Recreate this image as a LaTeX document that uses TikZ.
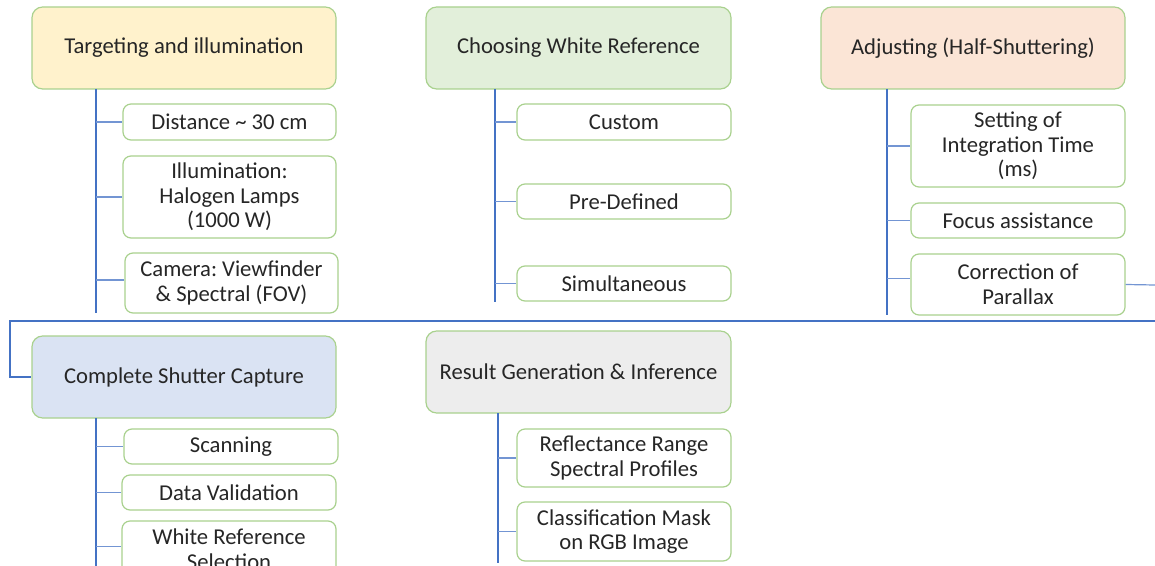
\documentclass[tikz,border=0pt]{standalone}
\usepackage{fontspec}
\setmainfont{Carlito}
\frenchspacing
\begin{document}
\begin{tikzpicture}[x=0.75pt,y=-0.75pt,
  base/.style={draw=bordergreen, line width=0.9pt, align=center, text=textdark,
    font=\fontsize{17}{18.4}\selectfont, inner sep=0pt},
  hdr/.style={base, rounded corners=8pt},
  child/.style={base, fill=white, rounded corners=6pt},
  sz/.style 2 args={minimum width=#1*0.75pt, minimum height=#2*0.75pt},
  trunk/.style={draw=lineblue, line width=0.9pt},
  branch/.style={draw=lineblue!75, line width=0.9pt}]
\definecolor{bordergreen}{HTML}{A9D18E}
\definecolor{textdark}{HTML}{262626}
\definecolor{lineblue}{HTML}{4472C4}
\definecolor{hyel}{HTML}{FFF2CC}
\definecolor{hgrn}{HTML}{E2EFDA}
\definecolor{hpch}{HTML}{FBE5D6}
\definecolor{hblu}{HTML}{DAE3F3}
\definecolor{hgry}{HTML}{EDEDED}
\useasboundingbox (0,0) rectangle (1155,566);
\clip (0,0) rectangle (1155,566);

% headers
\node[hdr, fill=hyel, sz={304}{82}] (h1) at (184,48) {Targeting and illumination};
\node[hdr, fill=hgrn, sz={305}{82}] (h2) at (578.5,48) {Choosing White Reference};
\node[hdr, fill=hpch, sz={304}{82}] (h3) at (973,48) {Adjusting (Half-Shuttering)};
\node[hdr, fill=hblu, sz={304}{82}] (h4) at (184,377) {Complete Shutter Capture};
\node[hdr, fill=hgry, sz={305}{82}] (h5) at (578.5,372) {Result Generation \& Inference};

% children column 1
\node[child, sz={213}{36}] (c11) at (229.5,122) {Distance \char`~\ 30 cm};
\node[child, sz={213}{82}] (c12) at (229.5,197) {Illumination:\\Halogen Lamps\\(1000 W)};
\node[child, sz={213}{60}] (c13) at (231.5,283) {Camera: Viewfinder\\\& Spectral (FOV)};
% column 2
\node[child, sz={214}{36}] (c21) at (624,122) {Custom};
\node[child, sz={214}{35}] (c22) at (624,201.5) {Pre-Defined};
\node[child, sz={214}{35}] (c23) at (624,283.5) {Simultaneous};
% column 3
\node[child, sz={214}{82}] (c31) at (1018,146) {Setting of\\Integration Time\\(ms)};
\node[child, sz={214}{35}] (c32) at (1018,220.5) {Focus assistance};
\node[child, sz={214}{61}] (c33) at (1018,284.5) {Correction of\\Parallax};
% bottom column 1
\node[child, sz={214}{35}] (c41) at (231,446.5) {Scanning};
\node[child, sz={214}{35}] (c42) at (229,492.5) {Data Validation};
\node[child, sz={214}{56}] (c43) at (229,549) {White Reference\\Selection};
% bottom column 2
\node[child, sz={214}{58}] (c51) at (624,458) {Reflectance Range\\Spectral Profiles};
\node[child, sz={214}{59}] (c52) at (624,531.5) {Classification Mask\\on RGB Image};

% trunks
\coordinate (t1) at (96,89);
\coordinate (t1e) at (96,313);
\coordinate (t2) at (495,89);
\coordinate (t2e) at (495,302);
\coordinate (t3) at (887,89);
\coordinate (t3e) at (887,315);
\coordinate (t4) at (96,418);
\coordinate (t4e) at (96,570);
\coordinate (t5) at (498,413);
\coordinate (t5e) at (498,563);
\draw[trunk] (t1) -- (t1e);
\draw[trunk] (t2) -- (t2e);
\draw[trunk] (t3) -- (t3e);
\draw[trunk] (t4) -- (t4e);
\draw[trunk] (t5) -- (t5e);

\draw[branch] (t1 |- c11.west) -- (c11.west);
\draw[branch] (t1 |- c12.west) -- (c12.west);
\draw[branch] ([yshift=2.25pt]c13.west -| t1) -- ([yshift=2.25pt]c13.west);
\draw[branch] (t2 |- c21.west) -- (c21.west);
\draw[branch] (t2 |- c22.west) -- (c22.west);
\draw[branch] (t2 |- c23.west) -- (c23.west);
\draw[branch] (t3 |- c31.west) -- (c31.west);
\draw[branch] (t3 |- c32.west) -- (c32.west);
\draw[branch] ([yshift=4.5pt]c33.west -| t3) -- ([yshift=4.5pt]c33.west);
\draw[branch] (t4 |- c41.west) -- (c41.west);
\draw[branch] (t4 |- c42.west) -- (c42.west);
\draw[branch] ([yshift=2pt]c43.west -| t4) -- ([yshift=2pt]c43.west);
\draw[branch] (t5 |- c51.west) -- (c51.west);
\draw[branch] (t5 |- c52.west) -- (c52.west);

% flow link from row 1 to row 2
\coordinate (edge) at (1155,285);
\coordinate (sepR) at (1155,321);
\coordinate (sepL) at (10,321);
\draw[branch] (c33.east) -- (edge);
\draw[trunk] (sepR) -- (sepL) |- (h4.west);
\end{tikzpicture}
\end{document}
